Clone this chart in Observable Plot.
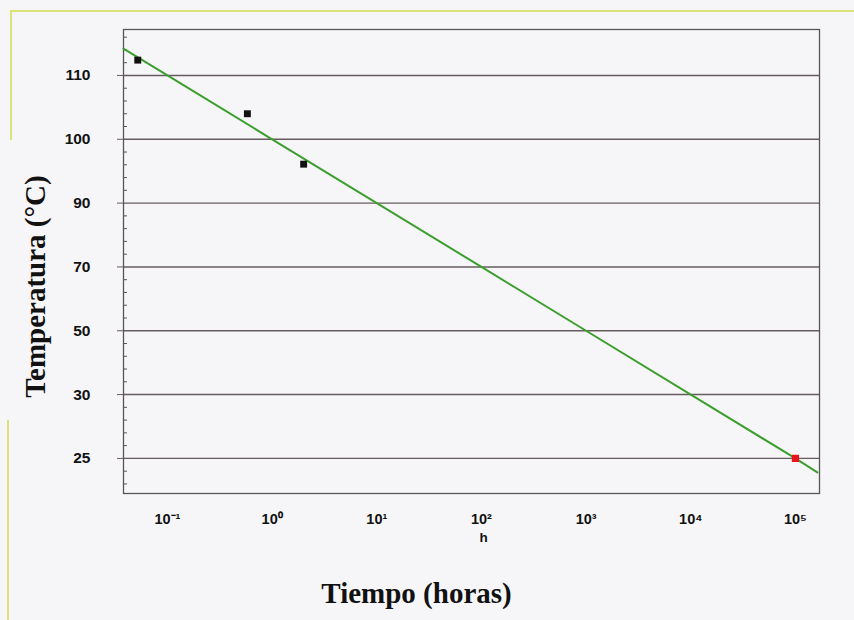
<!DOCTYPE html>
<html>
<head>
<meta charset="utf-8">
<script src="https://cdn.jsdelivr.net/npm/d3@7"></script>
<script src="https://cdn.jsdelivr.net/npm/@observablehq/plot@0.6"></script>
<style>
  html, body { margin: 0; padding: 0; background: #f6f6f8; }
  #wrap { position: relative; width: 854px; height: 620px; overflow: hidden; }
  .deco { position: absolute; background: #d9e37a; }
</style>
</head>
<body>
<div id="wrap">
  <div class="deco" style="left:10px; top:10px; width:844px; height:2px;"></div>
  <div class="deco" style="left:10px; top:10px; width:2px; height:130px;"></div>
  <div class="deco" style="left:7px; top:420px; width:2px; height:200px;"></div>
  <div id="chart"></div>
</div>
<script>
// Y axis levels (°C), drawn on evenly spaced gridlines
const tempLevels = [25, 30, 50, 70, 90, 100, 110];
// X axis ticks (hours) and their labels
const hourTicks = [0.1, 1, 10, 100, 1000, 10000, 100000];
const hourTickLabels = ["10⁻¹", "10⁰", "10¹", "10²", "10³", "10⁴", "10⁵"];
// Measured points (black squares)
const pointHours = [0.052, 0.58, 2.0];
const pointTemps = [112.4, 104.0, 96.1];
// Highlighted point (red square)
const redHours = [100000];
const redTemps = [25];
// Fitted green line, read where it crosses the gridlines and the frame edges
const lineHours = [0.038, 0.1, 1, 10, 100, 1000, 10000, 100000, 162000];
const lineTemps = [114.2, 110, 100, 90, 70, 50, 30, 25, 23.9];

// Map a temperature to its position on the evenly spaced level axis
const levelIndex = d3.scaleLinear(tempLevels, d3.range(tempLevels.length));

const points = pointHours.map((h, i) => ({h, t: pointTemps[i]}));
const red = redHours.map((h, i) => ({h, t: redTemps[i]}));
const line = lineHours.map((h, i) => ({h, t: lineTemps[i]}));

const majorIdx = d3.range(tempLevels.length);
const minorIdx = d3.range(-0.4, 6.7, 0.2).map(v => Math.round(v * 10) / 10).filter(v => Math.abs(v - Math.round(v)) > 1e-6);

const gridColor = "#655d5d";
const serif = "'Liberation Serif', 'Times New Roman', serif";

const chart = Plot.plot({
  width: 854,
  height: 620,
  marginLeft: 123,
  marginRight: 35,
  marginTop: 29,
  marginBottom: 127,
  style: {background: "transparent", fontFamily: "'Liberation Sans', Arial, sans-serif", color: "#111"},
  x: {type: "log", domain: [0.038, 169800]},
  y: {domain: [-0.55, 6.72]},
  marks: [
    Plot.ruleY(majorIdx, {y: d => d, stroke: gridColor, strokeWidth: 1.4}),
    Plot.frame({stroke: "#5a5454", strokeWidth: 1.3}),
    Plot.axisY({ticks: majorIdx, anchor: "left", tickSize: 6, tickPadding: 27, stroke: gridColor,
      tickFormat: i => String(tempLevels[i]), fontSize: 15.5, fontWeight: "bold", fill: "#111", label: null}),
    Plot.axisY({ticks: minorIdx, anchor: "left", tickSize: 4, dx: 4, stroke: "#555", fill: "none", label: null}),
    Plot.axisX({ticks: hourTicks, anchor: "bottom", tickSize: 0, tickPadding: 20,
      tickFormat: d => hourTickLabels[hourTicks.indexOf(d)], fontSize: 14.5, fontWeight: "bold", fill: "#111", label: null}),
    Plot.line(line, {x: "h", y: d => levelIndex(d.t), stroke: "#3c9e2e", strokeWidth: 2}),
    Plot.dot(points, {x: "h", y: d => levelIndex(d.t), symbol: "square", r: 3.9, fill: "#111", stroke: "none"}),
    Plot.dot(red, {x: "h", y: d => levelIndex(d.t), symbol: "square", r: 4.1, fill: "#e8141c", stroke: "none"}),
    Plot.text(["h"], {text: d => d, frameAnchor: "bottom", textAnchor: "middle", lineAnchor: "middle",
      dx: 12, dy: 44, fontSize: 13.5, fontWeight: "bold", fill: "#111"}),
    Plot.text(["Tiempo (horas)"], {text: d => d, frameAnchor: "bottom", textAnchor: "middle", lineAnchor: "middle",
      dx: -55, dy: 100, fontSize: 29, fontWeight: "bold", fontFamily: serif, fill: "#111"}),
    Plot.text(["Temperatura (°C)"], {text: d => d, frameAnchor: "left", textAnchor: "middle", lineAnchor: "middle",
      rotate: -90, dx: -88, dy: 25, fontSize: 29, fontWeight: "bold", fontFamily: serif, fill: "#111"})
  ]
});
document.getElementById("chart").appendChild(chart);
</script>
</body>
</html>
